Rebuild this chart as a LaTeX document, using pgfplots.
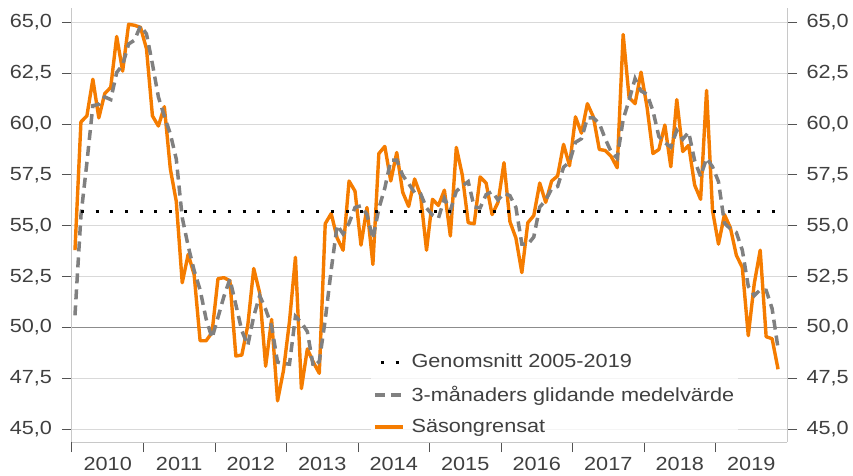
\documentclass[border=0pt]{standalone}
\usepackage{fontspec}
\setmainfont{Liberation Sans}[FakeStretch=1.14]
\usepackage{pgfplots}
\pgfplotsset{compat=1.18}
\usepackage{pgfplotstable}
\definecolor{txt}{HTML}{404040}
\definecolor{orng}{HTML}{F57C00}
\definecolor{dgray}{HTML}{808080}
\definecolor{gridc}{HTML}{D9D9D9}
\definecolor{framec}{HTML}{C8C8C8}
\definecolor{midline}{HTML}{8C8C8C}

\pgfplotstableread{
x y
0 53.8
1 60.1
2 60.4
3 62.2
4 60.3
5 61.5
6 61.8
7 64.3
8 62.6
9 64.9
10 64.85
11 64.75
12 63.7
13 60.4
14 59.9
15 60.85
16 57.8
17 56.2
18 52.2
19 53.6
20 52.6
21 49.35
22 49.35
23 49.75
24 52.4
25 52.45
26 52.3
27 48.6
28 48.65
29 50.1
30 52.9
31 51.7
32 48.1
33 50.4
34 46.4
35 47.9
36 50.3
37 53.45
38 47.0
39 48.95
40 48.3
41 47.75
42 55.1
43 55.6
44 54.4
45 53.8
46 57.2
47 56.7
48 54.05
49 55.9
50 53.1
51 58.55
52 58.9
53 57.2
54 58.6
55 56.65
56 55.95
57 57.3
58 56.5
59 53.8
60 56.3
61 56.0
62 56.75
63 54.5
64 58.85
65 57.5
66 55.15
67 55.1
68 57.4
69 57.1
70 55.55
71 56.15
72 58.1
73 55.2
74 54.4
75 52.7
76 55.15
77 55.5
78 57.1
79 56.15
80 57.2
81 57.45
82 59.0
83 57.95
84 60.35
85 59.55
86 61.0
87 60.35
88 58.75
89 58.7
90 58.4
91 57.85
92 64.4
93 61.3
94 61.0
95 62.55
96 60.85
97 58.55
98 58.75
99 59.95
100 57.9
101 61.2
102 58.65
103 58.95
104 57.0
105 56.3
106 61.65
107 55.75
108 54.1
109 55.55
110 54.9
111 53.55
112 52.95
113 49.6
114 52.15
115 53.8
116 49.55
117 49.45
118 47.95
}\saes

\pgfplotstableread{
x y
0 50.6
1 55.5
2 58.10
3 60.90
4 60.97
5 61.33
6 61.20
7 62.53
8 62.90
9 63.93
10 64.12
11 64.83
12 64.43
13 62.95
14 61.33
15 60.38
16 59.52
17 58.28
18 55.40
19 54.00
20 52.80
21 51.85
22 50.43
23 49.48
24 50.50
25 51.53
26 52.38
27 51.12
28 49.85
29 49.12
30 50.55
31 51.57
32 50.90
33 50.07
34 48.30
35 48.23
36 48.20
37 50.55
38 50.25
39 49.80
40 48.08
41 48.33
42 50.38
43 52.82
44 55.03
45 54.60
46 55.13
47 55.90
48 55.98
49 55.55
50 54.35
51 55.85
52 56.85
53 58.22
54 58.23
55 57.48
56 57.07
57 56.63
58 56.58
59 55.87
60 55.53
61 55.37
62 56.35
63 55.75
64 56.70
65 56.95
66 57.17
67 55.92
68 55.88
69 56.53
70 56.68
71 56.27
72 56.60
73 56.48
74 55.90
75 54.10
76 54.08
77 54.45
78 55.92
79 56.25
80 56.82
81 56.93
82 57.88
83 58.13
84 59.10
85 59.28
86 60.30
87 60.30
88 60.03
89 59.27
90 58.62
91 58.32
92 60.22
93 61.18
94 62.23
95 61.62
96 61.47
97 60.65
98 59.38
99 59.08
100 58.87
101 59.68
102 59.25
103 59.60
104 58.20
105 57.42
106 58.32
107 57.90
108 57.17
109 55.13
110 54.85
111 54.67
112 53.80
113 52.03
114 51.57
115 51.85
116 51.83
117 50.93
118 48.98
}\mavg

\begin{document}
\fontsize{19}{22}\selectfont
\begin{tikzpicture}
\useasboundingbox (-72pt,-33pt) rectangle (781pt,442pt);
\begin{axis}[
  at={(0pt,0pt)}, anchor=south west,
  scale only axis, width=715pt, height=434pt,
  xmin=-0.5, xmax=119.5, ymin=44.376, ymax=65.70,
  axis x line*=bottom, axis y line*=left,
  axis line style={framec, line width=1pt, -},
  xtick={-0.5,11.5,...,107.5},
  xticklabels={},
  extra x ticks={5.5,17.5,...,113.5},
  extra x tick labels={2010,2011,2012,2013,2014,2015,2016,2017,2018,2019},
  extra x tick style={major tick style={draw=none}},
  ytick={45,47.5,...,65},
  tick align=outside,
  major tick length=10pt,
  tick style={color=txt!90, line width=1pt},
  ymajorgrids, grid style={gridc, line width=1pt},
  /pgf/number format/.cd, fixed, fixed zerofill, precision=1, use comma, assume math mode=true,
  /pgfplots/.cd,
  yticklabel style={text=txt, xshift=-3.5pt},
  xticklabel style={text=txt, yshift=1.5pt},
  legend style={at={(0.418,0.212)}, anchor=north west, fill=white, fill opacity=0.75, text opacity=1,
    draw=none, text=txt, row sep=11pt, inner sep=2pt, font=\fontsize{19}{22}\selectfont},
  legend cell align=left,
  reverse legend,
  legend image code/.code={\draw[#1] (0pt,0pt) -- (28pt,0pt); \path (33pt,0pt);},
]
\addplot[midline, line width=1.6pt, forget plot] coordinates {(-0.5,50) (119.5,50)};
\addplot[orng, line width=3.4pt, line join=round] table[x=x,y=y] {\saes};
\addlegendentry{Säsongrensat}
\addplot[dgray, line width=3.5pt, dash pattern=on 10pt off 6pt] table[x=x,y=y] {\mavg};
\addlegendentry{3-månaders glidande medelvärde}
\addplot[black, line width=3pt, dash pattern=on 3pt off 11.7pt, dash phase=-6pt] coordinates {(0,55.7) (118,55.7)};
\addlegendentry{Genomsnitt 2005-2019}
\end{axis}
\begin{axis}[
  at={(0pt,0pt)}, anchor=south west,
  scale only axis, width=715pt, height=434pt,
  xmin=-0.5, xmax=119.5, ymin=44.376, ymax=65.70,
  axis x line=none, axis y line*=right,
  axis line style={framec, line width=1pt, -},
  ytick={45,47.5,...,65},
  tick align=outside,
  major tick length=10pt,
  tick style={color=txt!90, line width=1pt},
  /pgf/number format/.cd, fixed, fixed zerofill, precision=1, use comma, assume math mode=true,
  /pgfplots/.cd,
  yticklabel style={text=txt, xshift=3pt},
]
\end{axis}
\end{tikzpicture}
\end{document}
